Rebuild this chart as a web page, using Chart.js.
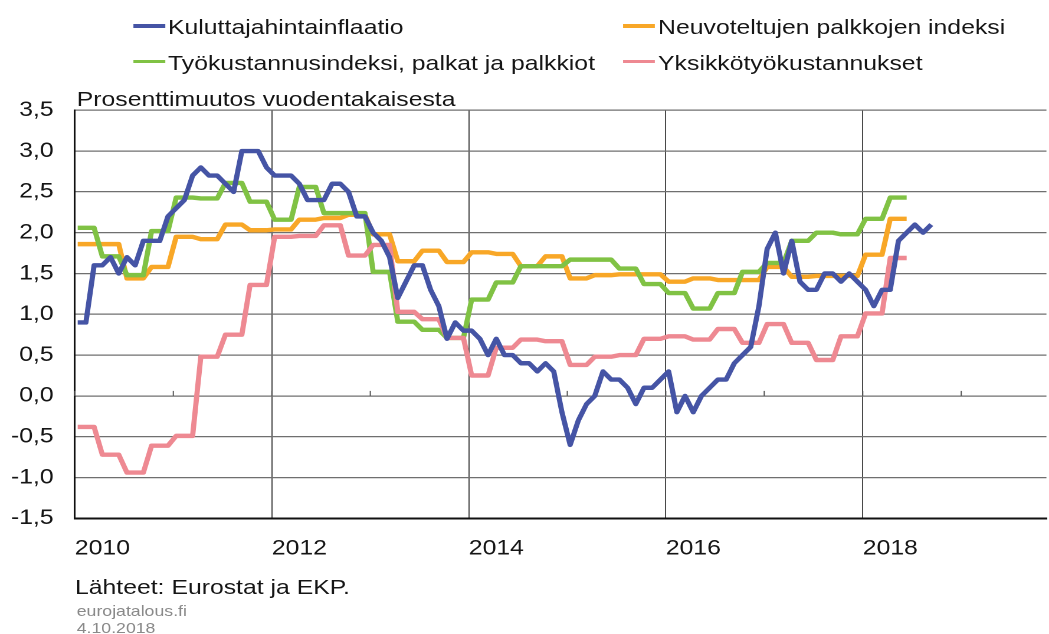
<!DOCTYPE html>
<html lang="fi">
<head>
<meta charset="utf-8">
<script src="https://cdn.jsdelivr.net/npm/chart.js@4.4.0/dist/chart.umd.min.js"></script>
<style>
  html, body { margin: 0; padding: 0; background: #fff; overflow: hidden; }
  body { width: 1049px; height: 634px; font-family: "Liberation Sans", Arial, sans-serif; }
  /* the reference is stretched sideways, so the whole stage is too */
  #stage { position: absolute; left: 0; top: 0; width: 889px; height: 634px; transform: scaleX(1.18); transform-origin: 0 0; }
  #chartBox { position: absolute; left: 0; top: 0; width: 889px; height: 634px; }
  .txt { position: absolute; white-space: nowrap; font-size: 21px; line-height: 24px; color: #151515; }
  .small { font-size: 15px; line-height: 18px; color: #8a8a8a; }
  .mark { position: absolute; width: 27px; height: 3.5px; }
</style>
</head>
<body>
<div id="stage">
  <div id="chartBox"><canvas id="chart"></canvas></div>
  <div id="legend"></div>
  <div class="txt" style="left:65px; top:87px;">Prosenttimuutos vuodentakaisesta</div>
  <div class="txt" style="left:63.5px; top:575px;">Lähteet: Eurostat ja EKP.</div>
  <div class="txt small" style="left:65px; top:602px;">eurojatalous.fi</div>
  <div class="txt small" style="left:65px; top:619px;">4.10.2018</div>
</div>
<script>
const startYear = 2010;

const seriesNames = [
  "Kuluttajahintainflaatio",
  "Neuvoteltujen palkkojen indeksi",
  "Työkustannusindeksi, palkat ja palkkiot",
  "Yksikkötyökustannukset",
];
const seriesColors = ["#4554a5", "#f8a727", "#80c244", "#ee8992"];

// kuukausittain, tammikuu 2010 - syyskuu 2018
const inflation = [
  0.9, 0.9, 1.6, 1.6, 1.7, 1.5, 1.7, 1.6, 1.9, 1.9, 1.9, 2.2,
  2.3, 2.4, 2.7, 2.8, 2.7, 2.7, 2.6, 2.5, 3.0, 3.0, 3.0, 2.8,
  2.7, 2.7, 2.7, 2.6, 2.4, 2.4, 2.4, 2.6, 2.6, 2.5, 2.2, 2.2,
  2.0, 1.9, 1.7, 1.2, 1.4, 1.6, 1.6, 1.3, 1.1, 0.7, 0.9, 0.8,
  0.8, 0.7, 0.5, 0.7, 0.5, 0.5, 0.4, 0.4, 0.3, 0.4, 0.3, -0.2,
  -0.6, -0.3, -0.1, 0.0, 0.3, 0.2, 0.2, 0.1, -0.1, 0.1, 0.1, 0.2,
  0.3, -0.2, 0.0, -0.2, 0.0, 0.1, 0.2, 0.2, 0.4, 0.5, 0.6, 1.1,
  1.8, 2.0, 1.5, 1.9, 1.4, 1.3, 1.3, 1.5, 1.5, 1.4, 1.5, 1.4,
  1.3, 1.1, 1.3, 1.3, 1.9, 2.0, 2.1, 2.0, 2.1,
];

// neljännesvuosittain, Q1 2010 - Q2 2018
const negotiatedWages = [
  1.86, 1.86, 1.44, 1.58,
  1.95, 1.92, 2.10, 2.03,
  2.04, 2.16, 2.18, 2.22,
  1.98, 1.65, 1.78, 1.64,
  1.76, 1.74, 1.59, 1.71,
  1.44, 1.48, 1.49, 1.49,
  1.40, 1.44, 1.42, 1.42,
  1.58, 1.46, 1.47, 1.47,
  1.73, 2.17,
];
const labourCostWages = [
  2.06, 1.71, 1.48, 2.02,
  2.43, 2.42, 2.61, 2.38,
  2.16, 2.56, 2.24, 2.24,
  1.52, 0.91, 0.81, 0.71,
  1.18, 1.39, 1.59, 1.59,
  1.67, 1.67, 1.56, 1.37,
  1.26, 1.07, 1.26, 1.52,
  1.63, 1.90, 2.00, 1.98,
  2.17, 2.43,
];
const unitLabourCosts = [
  -0.38, -0.72, -0.94, -0.61,
  -0.49, 0.48, 0.75, 1.36,
  1.95, 1.96, 2.09, 1.72,
  1.85, 1.03, 0.94, 0.71,
  0.25, 0.59, 0.69, 0.67,
  0.38, 0.48, 0.50, 0.70,
  0.73, 0.69, 0.82, 0.65,
  0.88, 0.65, 0.44, 0.73,
  1.01, 1.69,
];

const yearTicks = [2010, 2011, 2012, 2013, 2014, 2015, 2016, 2017, 2018, 2019];
const yTicks = [-1.5, -1.0, -0.5, 0.0, 0.5, 1.0, 1.5, 2.0, 2.5, 3.0, 3.5];

function monthX(i) {
  return startYear + (i + 0.35) / 12;
}
function monthly(values) {
  return values.map((v, i) => ({ x: monthX(i), y: v }));
}
function quarterly(values) {
  // quarter value repeated for each of its months
  return monthly(values.flatMap((v) => [v, v, v]));
}

const seriesData = [
  monthly(inflation),
  quarterly(negotiatedWages),
  quarterly(labourCostWages),
  quarterly(unitLabourCosts),
];
const drawOrder = [0, 3, 2, 1];

// small tick marks on the zero line
const zeroTicks = {
  id: "zeroTicks",
  beforeDatasetsDraw(chart) {
    const { ctx, scales } = chart;
    const y0 = scales.y.getPixelForValue(0);
    ctx.save();
    ctx.strokeStyle = "#555";
    ctx.lineWidth = 1;
    yearTicks.forEach((v) => {
      const px = scales.x.getPixelForValue(v);
      ctx.beginPath();
      ctx.moveTo(px, y0);
      ctx.lineTo(px, y0 - 5);
      ctx.stroke();
    });
    ctx.restore();
  },
};

const ctx = document.getElementById("chart").getContext("2d");
const chart = new Chart(ctx, {
  type: "line",
  data: {
    datasets: seriesNames.map((name, i) => ({
      label: name,
      data: seriesData[i],
      borderColor: seriesColors[i],
      backgroundColor: seriesColors[i],
      borderWidth: 4.4,
      borderJoinStyle: "round",
      borderCapStyle: "butt",
      pointRadius: 0,
      tension: 0,
      order: drawOrder[i],
    })),
  },
  options: {
    responsive: true,
    maintainAspectRatio: false,
    devicePixelRatio: 2,
    animation: false,
    layout: { padding: { top: 110.3, right: 0, bottom: 0, left: 0 } },
    plugins: {
      legend: { display: false },
      tooltip: { enabled: false },
    },
    scales: {
      x: {
        type: "linear",
        min: 2010,
        max: 2019.865,
        afterBuildTicks: (s) => { s.ticks = yearTicks.map((v) => ({ value: v })); },
        afterFit: (s) => { s.height = 115.7; },
        grid: {
          drawTicks: false,
          lineWidth: 1,
          color: (c) => (c.tick && c.tick.value % 2 === 0 ? "#4a4a4a" : "rgba(0,0,0,0)"),
        },
        border: { display: true, color: "#111", width: 2 },
        ticks: {
          autoSkip: false,
          maxRotation: 0,
          align: "start",
          padding: 18,
          color: "#151515",
          font: { family: "'Liberation Sans', Arial, sans-serif", size: 21 },
          callback: (v) => (v % 2 === 0 ? String(v) : ""),
        },
      },
      y: {
        min: -1.5,
        max: 3.5,
        afterBuildTicks: (s) => { s.ticks = yTicks.map((v) => ({ value: v })); },
        afterFit: (s) => { s.width = 63.4; },
        grid: { drawTicks: false, color: "#6f6f6f", lineWidth: 1.3 },
        border: { display: true, color: "#111", width: 1.5 },
        ticks: {
          padding: 18,
          color: "#151515",
          font: { family: "'Liberation Sans', Arial, sans-serif", size: 21 },
          callback: (v) => v.toFixed(1).replace(".", ","),
        },
      },
    },
  },
  plugins: [zeroTicks],
});

// Legenda kahteen sarakkeeseen
const legendSlots = [
  { left: 112.7, top: 15 },
  { left: 528, top: 15 },
  { left: 112.7, top: 50.7 },
  { left: 528, top: 50.7 },
];
const legendBox = document.getElementById("legend");
chart.data.datasets.forEach((ds, i) => {
  const slot = legendSlots[i];
  const mark = document.createElement("div");
  mark.className = "mark";
  mark.style.left = slot.left + "px";
  mark.style.top = slot.top + 9 + "px";
  mark.style.background = ds.borderColor;
  const label = document.createElement("div");
  label.className = "txt";
  label.style.left = slot.left + 29.7 + "px";
  label.style.top = slot.top + "px";
  label.textContent = ds.label;
  legendBox.appendChild(mark);
  legendBox.appendChild(label);
});
</script>
</body>
</html>
